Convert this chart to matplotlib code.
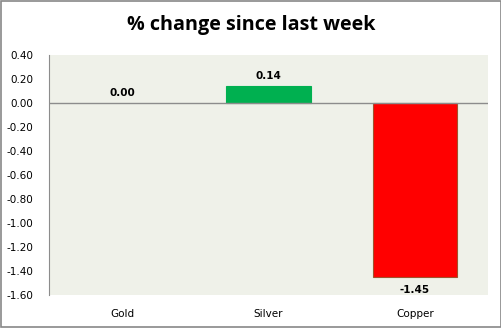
import matplotlib.pyplot as plt
from matplotlib.patches import Rectangle

metals = ['Gold', 'Silver', 'Copper']
pct_change = [0.00, 0.14, -1.45]
bar_colors = ['#00B050', '#00B050', '#FF0000']
edge_colors = ['#00B050', '#00B050', '#A0522D']
yticks = [0.40, 0.20, 0.00, -0.20, -0.40, -0.60, -0.80, -1.00, -1.20, -1.40, -1.60]

fig = plt.figure(figsize=(5.02, 3.28), dpi=100)
fig.patches.append(Rectangle((0.002, 0.003), 0.996, 0.994, transform=fig.transFigure,
                             fill=False, edgecolor='#888888', linewidth=1.2))

ax = fig.add_axes([49 / 502, 1 - 295 / 328, (488 - 49) / 502, (295 - 55) / 328])
ax.set_facecolor('#EFF1E9')

x = range(len(metals))
bars = ax.bar(x, pct_change, width=0.575, color=bar_colors, edgecolor=edge_colors,
              linewidth=0.8, zorder=3)
# zero-height bar shows nothing in the original
for b, v in zip(bars, pct_change):
    if v == 0:
        b.set_linewidth(0)
ax.axhline(0, color='#8C8C8C', linewidth=1, zorder=4)

for i, v in enumerate(pct_change):
    if v >= 0:
        ax.text(i, v + 0.045, f'{v:.2f}', ha='center', va='bottom', fontsize=7.5,
                fontweight='bold', family='DejaVu Sans')
    else:
        ax.text(i, v - 0.07, f'{v:.2f}', ha='center', va='top', fontsize=7.5,
                fontweight='bold', family='DejaVu Sans')

ax.set_xlim(-0.5, 2.5)
ax.set_ylim(-1.6, 0.4)
ax.set_yticks(yticks)
ax.set_yticklabels([f'{t:.2f}' for t in yticks], fontsize=7.5)
ax.set_xticks(list(x))
ax.set_xticklabels(metals, fontsize=7.5)
ax.tick_params(axis='y', length=0, pad=11)
ax.tick_params(axis='x', length=0, pad=10)

for side in ['top', 'right', 'bottom']:
    ax.spines[side].set_visible(False)
ax.spines['left'].set_color('#8C8C8C')

fig.text(0.5, 1 - 25 / 328, '% change since last week', ha='center', va='center',
         fontsize=14.2, fontweight='bold', family='Open Sans')

fig.savefig('out.png', dpi=100)
